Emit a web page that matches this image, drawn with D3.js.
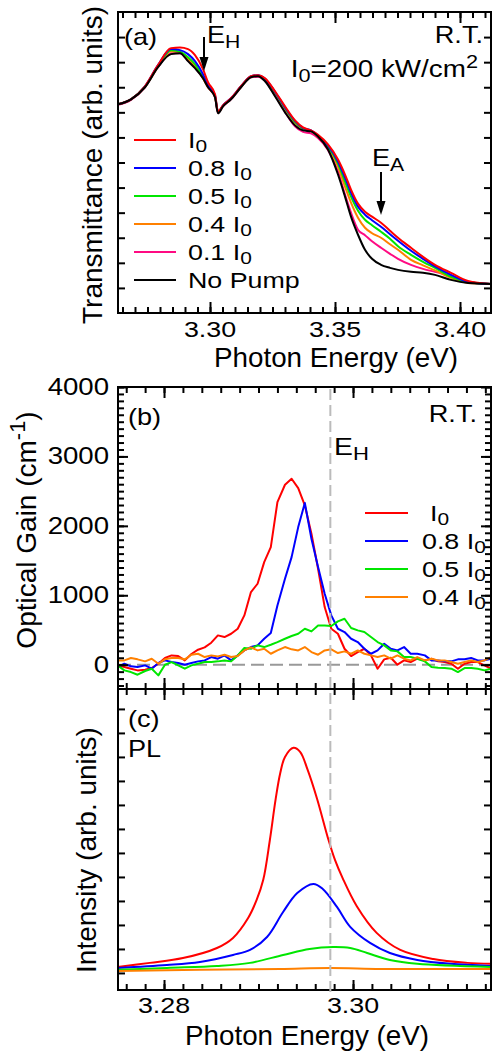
<!DOCTYPE html>
<html>
<head>
<meta charset="utf-8">
<script src="https://cdn.jsdelivr.net/npm/d3@7"></script>
<style>
body { margin: 0; background: #fff; }
svg { display: block; }
text { font-family: "Liberation Sans", Arial, Helvetica, sans-serif; fill: #000; }
</style>
</head>
<body>
<svg width="497" height="1053"></svg>
<script>
// ---- panel (a): transmittance ----
var energyA = [3.2632, 3.2684, 3.2740, 3.2792, 3.2844, 3.2880, 3.2912, 3.2940, 3.2972, 3.2992,
  3.3020, 3.3032, 3.3052, 3.3084, 3.3124, 3.3164, 3.3192, 3.3220, 3.3260, 3.3300,
  3.3340, 3.3372, 3.3404, 3.3432, 3.3472, 3.3512, 3.3540, 3.3564, 3.3592, 3.3620,
  3.3648, 3.3684, 3.3720, 3.3752, 3.3804, 3.3852, 3.3900, 3.3964, 3.4032, 3.4124];
var transI0 = [8.32, 8.52, 9.04, 9.88, 10.56, 10.58, 10.52, 10.28, 9.72, 9.20,
  8.72, 8.04, 8.28, 8.56, 9.04, 9.44, 9.48, 9.36, 8.84, 8.24,
  7.68, 7.40, 7.28, 7.10, 6.72, 6.12, 5.52, 4.92, 4.36, 4.04,
  3.84, 3.60, 3.28, 3.00, 2.60, 2.24, 1.92, 1.60, 1.28, 1.16];
var trans08 = [8.32, 8.52, 9.04, 9.88, 10.52, 10.48, 10.32, 10.04, 9.52, 9.08,
  8.68, 8.02, 8.28, 8.56, 9.04, 9.44, 9.48, 9.34, 8.82, 8.20,
  7.66, 7.38, 7.28, 7.08, 6.68, 6.04, 5.40, 4.80, 4.24, 3.92,
  3.70, 3.44, 3.14, 2.88, 2.48, 2.16, 1.86, 1.52, 1.24, 1.16];
var trans05 = [8.32, 8.52, 9.02, 9.84, 10.48, 10.42, 10.20, 9.92, 9.40, 9.04,
  8.64, 8.02, 8.26, 8.54, 9.02, 9.42, 9.46, 9.32, 8.80, 8.18,
  7.62, 7.36, 7.26, 7.06, 6.64, 5.96, 5.24, 4.64, 4.08, 3.72,
  3.50, 3.24, 2.96, 2.66, 2.32, 2.04, 1.80, 1.44, 1.24, 1.16];
var trans04 = [8.32, 8.52, 9.02, 9.82, 10.44, 10.40, 10.14, 9.84, 9.36, 9.00,
  8.62, 8.00, 8.26, 8.54, 9.02, 9.42, 9.46, 9.30, 8.78, 8.14,
  7.58, 7.34, 7.26, 7.04, 6.60, 5.84, 5.04, 4.40, 3.80, 3.40,
  3.18, 3.00, 2.74, 2.52, 2.12, 1.90, 1.70, 1.40, 1.20, 1.16];
var trans01 = [8.30, 8.50, 9.00, 9.80, 10.36, 10.36, 10.06, 9.78, 9.36, 9.00,
  8.60, 7.98, 8.24, 8.52, 9.00, 9.40, 9.42, 9.26, 8.68, 8.02,
  7.44, 7.22, 7.16, 6.98, 6.50, 5.64, 4.72, 4.00, 3.32, 3.10,
  2.86, 2.60, 2.36, 2.16, 1.92, 1.76, 1.64, 1.48, 1.24, 1.16];
var transNoPump = [8.32, 8.52, 9.00, 9.80, 10.32, 10.36, 10.04, 9.76, 9.36, 9.00,
  8.60, 7.96, 8.24, 8.52, 9.00, 9.40, 9.44, 9.24, 8.64, 8.00,
  7.48, 7.28, 7.24, 7.04, 6.52, 5.52, 4.64, 3.84, 3.12, 2.52,
  2.16, 1.92, 1.80, 1.72, 1.64, 1.60, 1.52, 1.32, 1.20, 1.16];

// ---- panel (b): optical gain ----
var energyB = [3.2751, 3.2758, 3.2765, 3.2772, 3.2780, 3.2787, 3.2794, 3.2801, 3.2808, 3.2815,
  3.2822, 3.2829, 3.2836, 3.2843, 3.2850, 3.2857, 3.2864, 3.2871, 3.2878, 3.2885,
  3.2892, 3.2899, 3.2906, 3.2913, 3.2920, 3.2928, 3.2935, 3.2942, 3.2949, 3.2956,
  3.2963, 3.2970, 3.2977, 3.2984, 3.2991, 3.2998, 3.3005, 3.3012, 3.3019, 3.3026,
  3.3033, 3.3040, 3.3047, 3.3054, 3.3061, 3.3068, 3.3076, 3.3083, 3.3090, 3.3097,
  3.3104, 3.3111, 3.3118, 3.3125, 3.3132, 3.3139, 3.3146];
var gainI0 = [-10, -34, -58, -82, -72, -48, 14, 96, 134, 125,
  62, 154, 216, 250, 317, 422, 398, 446, 518, 710,
  1046, 1166, 1478, 1694, 2342, 2592, 2678, 2544, 2294, 1886,
  1382, 830, 518, 446, 230, 125, 182, 230, 134, -58,
  77, 101, 0, 62, 38, 86, 62, 86, 48, 38,
  14, -58, 14, 38, 38, -10, -58];
var gain08 = [-34, 14, -24, -34, -10, -58, 24, 62, 38, 24,
  0, 24, 48, 62, 110, 86, 134, 62, 134, 206,
  254, 278, 374, 456, 854, 1238, 1550, 1982, 2330, 1814,
  1406, 1022, 710, 518, 470, 374, 326, 230, 158, 206,
  302, 230, 206, 254, 158, 158, 134, 62, 62, 48,
  48, 77, 77, 96, 62, 62, 86];
var gain05 = [-10, -82, -106, -144, -91, -58, -154, 0, 38, -10,
  -58, -10, 14, 38, 38, 48, 62, 48, 134, 240,
  230, 278, 254, 288, 326, 374, 413, 446, 518, 480,
  566, 566, 557, 624, 662, 528, 494, 470, 398, 326,
  278, 206, 192, 110, 110, 86, 48, -34, -43, -48,
  -58, -106, -48, -48, -58, -82, -58];
var gain04 = [62, 62, 96, 77, 48, 86, 14, 77, 96, 96,
  77, 144, 158, 110, 134, 120, 144, 110, 125, 206,
  250, 206, 230, 158, 206, 254, 221, 206, 254, 182,
  144, 206, 221, 168, 192, 158, 206, 158, 134, 110,
  134, 86, 134, 86, 62, 110, 62, 86, 62, 62,
  38, 14, 38, 62, 38, 62, 110];

// ---- panel (c): PL ----
var plI0E = [3.2751, 3.2785, 3.2820, 3.2856, 3.2873, 3.2889, 3.2898, 3.2905, 3.2912, 3.2918,
  3.2923, 3.2928, 3.2937, 3.2944, 3.2952, 3.2962, 3.2974, 3.2981, 3.2989, 3.3004, 3.3025,
  3.3050, 3.3085, 3.3121, 3.3146];
var plI0 = [0.25, 0.42, 0.62, 1.04, 1.46, 2.29, 3.04, 3.88, 5.54, 7.21,
  8.33, 9.00, 9.38, 9.21, 8.46, 7.25, 5.55, 4.70, 3.95, 2.78, 1.67,
  0.96, 0.58, 0.42, 0.38];
var pl08E = [3.2751, 3.2803, 3.2838, 3.2873, 3.2891, 3.2909, 3.2926, 3.2941, 3.2958, 3.2968,
  3.2983, 3.2997, 3.3018, 3.3039, 3.3068, 3.3103, 3.3146];
var pl08 = [0.21, 0.33, 0.46, 0.75, 0.96, 1.50, 2.54, 3.33, 3.71, 3.50,
  2.75, 1.92, 1.25, 0.83, 0.54, 0.38, 0.29];
var pl05E = [3.2751, 3.2803, 3.2856, 3.2891, 3.2926, 3.2954, 3.2979, 3.2997, 3.3015, 3.3039, 3.3068, 3.3146];
var pl05 = [0.13, 0.21, 0.29, 0.42, 0.75, 1.00, 1.08, 1.04, 0.83, 0.54, 0.38, 0.25];
var pl04E = [3.2751, 3.2838, 3.2923, 3.2976, 3.3029, 3.3103, 3.3146];
var pl04 = [0.08, 0.13, 0.17, 0.21, 0.17, 0.17, 0.17];

// ---- ticks and markers ----
var xMajorA = [3.30, 3.35, 3.40];
var xMajorBC = [3.28, 3.30];
var yMajorB = [0, 1000, 2000, 3000, 4000];
var eH = 3.2976;
var eA = 3.3684;

var red = "#ff0000", blue = "#0000ff", green = "#00e600", orange = "#ff8000", pink = "#ff0a82";

var svg = d3.select("svg");

var xA = d3.scaleLinear().domain([3.2632, 3.4124]).range([118, 491]);
var yA = d3.scaleLinear().domain([0, 12]).range([313, 12]);
var xB = d3.scaleLinear().domain([3.27513, 3.3146]).range([118, 491]);
var yB = d3.scaleLinear().domain([-350, 4000]).range([689, 387]);
var yC = d3.scaleLinear().domain([-0.71, 11.83]).range([990, 689]);

function rich(t, parts, size) {
  var shift = 0;
  parts.forEach(function(p) {
    var s = typeof p === "string" ? p : p[0];
    var kind = typeof p === "string" ? null : p[1];
    var target = kind === "sub" ? 0.2 : kind === "sup" ? -0.38 : 0;
    var ts = t.append("tspan").text(s);
    var dy = (target - shift) * size;
    if (dy) ts.attr("dy", dy);
    if (kind) ts.attr("font-size", size * 0.78);
    shift = target;
  });
  return t;
}

function label(x, y, parts, opts) {
  opts = opts || {};
  var size = opts.size || 23;
  var t = svg.append("text")
    .attr("transform", "translate(" + x + "," + y + ") " +
      (opts.rotate ? "rotate(-90)" : "scale(" + (opts.sx || 1.18) + ",1)"))
    .attr("font-size", size)
    .attr("text-anchor", opts.anchor || "start");
  return rich(t, parts, size);
}

function ticks(axis, scale, values, size, tx, ty) {
  svg.append("g")
    .attr("transform", "translate(" + tx + "," + ty + ")")
    .call(axis(scale).tickValues(values).tickSize(size).tickFormat(""))
    .call(function(g) {
      g.select(".domain").remove();
      g.selectAll("line").attr("stroke", "#000").attr("stroke-width", 2);
    });
}

function tickLabels(scale, values, fmt, y) {
  values.forEach(function(v) {
    label(scale(v), y, [fmt(v)], { anchor: "middle", sx: 1.22, size: 22 });
  });
}

function frame(y0, y1) {
  svg.append("rect")
    .attr("x", 118).attr("y", y0)
    .attr("width", 373).attr("height", y1 - y0)
    .attr("fill", "none").attr("stroke", "#000").attr("stroke-width", 2);
}

function curve(xs, ys, xScale, yScale, color, shape) {
  var line = d3.line()
    .x(function(d, i) { return xScale(xs[i]); })
    .y(function(d) { return yScale(d); });
  if (shape) line.curve(shape);
  svg.append("path")
    .attr("d", line(ys))
    .attr("fill", "none")
    .attr("stroke", color)
    .attr("stroke-width", 2)
    .attr("stroke-linejoin", "round");
}

// ================= panel (a) =================
var minorA = d3.range(653, 683).map(function(k) { return k / 200; });
var yTicksA = d3.range(1, 12);

[[trans01, pink], [trans04, orange], [trans05, green], [trans08, blue], [transI0, red], [transNoPump, "#000"]]
  .forEach(function(s) { curve(energyA, s[0], xA, yA, s[1], d3.curveMonotoneX); });

ticks(d3.axisBottom, xA, minorA, 6, 0, 12);
ticks(d3.axisBottom, xA, xMajorA, 11, 0, 12);
ticks(d3.axisBottom, xA, minorA, -6, 0, 313);
ticks(d3.axisBottom, xA, xMajorA, -11, 0, 313);
ticks(d3.axisLeft, yA, yTicksA, -7, 118, 0);
ticks(d3.axisLeft, yA, yTicksA, 7, 491, 0);
frame(12, 313);
tickLabels(xA, xMajorA, d3.format(".2f"), 337);

var legendA = [
  [["I", ["0", "sub"]], red],
  [["0.8 I", ["0", "sub"]], blue],
  [["0.5 I", ["0", "sub"]], green],
  [["0.4 I", ["0", "sub"]], orange],
  [["0.1 I", ["0", "sub"]], pink],
  [["No Pump"], "#000"]
];
legendA.forEach(function(d, i) {
  var y = 140 + i * 28;
  svg.append("line").attr("x1", 134).attr("x2", 176).attr("y1", y).attr("y2", y)
    .attr("stroke", d[1]).attr("stroke-width", 2);
  label(188, y + 8, d[0], { size: 22, sx: 1.22 });
});

label(124, 45, ["(a)"]);
label(207, 43, ["E", ["H", "sub"]]);
label(483, 43, ["R.T."], { anchor: "end" });
label(478, 77, ["I", ["0", "sub"], "=200 kW/cm", ["2", "sup"]], { anchor: "end", sx: 1.21 });
label(372, 166, ["E", ["A", "sub"]]);

function arrow(x, y0, y1) {
  svg.append("line").attr("x1", x).attr("x2", x).attr("y1", y0).attr("y2", y1 - 6)
    .attr("stroke", "#000").attr("stroke-width", 2);
  svg.append("path")
    .attr("d", "M" + (x - 4.5) + "," + (y1 - 14) + "L" + (x + 4.5) + "," + (y1 - 14) + "L" + x + "," + y1 + "Z")
    .attr("fill", "#000");
}
arrow(xA(eH), 37, 71);
arrow(xA(eA), 172, 215);

label(102, 165, ["Transmittance (arb. units)"], { rotate: true, anchor: "middle", size: 28 });
label(336, 367, ["Photon Energy (eV)"], { anchor: "middle", size: 27, sx: 1.03 });

// ================= panel (b) =================
var minorBC = d3.range(1638, 1658).map(function(k) { return k / 500; });
var minorB = d3.range(-3, 41).map(function(k) { return k * 100; });

svg.append("line")
  .attr("x1", 118).attr("x2", 491).attr("y1", yB(0)).attr("y2", yB(0))
  .attr("stroke", "#999").attr("stroke-width", 2).attr("stroke-dasharray", "13,6");

[[gainI0, red], [gain08, blue], [gain05, green], [gain04, orange]]
  .forEach(function(s) { curve(energyB, s[0], xB, yB, s[1], null); });

ticks(d3.axisBottom, xB, minorBC, 6, 0, 387);
ticks(d3.axisBottom, xB, xMajorBC, 11, 0, 387);
ticks(d3.axisBottom, xB, minorBC, -6, 0, 689);
ticks(d3.axisBottom, xB, minorBC, 6, 0, 689);
ticks(d3.axisBottom, xB, xMajorBC, -11, 0, 689);
ticks(d3.axisBottom, xB, xMajorBC, 11, 0, 689);
ticks(d3.axisLeft, yB, minorB, -6, 118, 0);
ticks(d3.axisLeft, yB, yMajorB, -10, 118, 0);
ticks(d3.axisLeft, yB, minorB, 6, 491, 0);
ticks(d3.axisLeft, yB, yMajorB, 10, 491, 0);
frame(387, 689);

yMajorB.forEach(function(v) {
  label(109, yB(v) + 8, [String(v)], { anchor: "end", sx: 1.2 });
});

var legendB = [
  [["I", ["0", "sub"]], red, 430],
  [["0.8 I", ["0", "sub"]], blue, 422],
  [["0.5 I", ["0", "sub"]], green, 422],
  [["0.4 I", ["0", "sub"]], orange, 422]
];
legendB.forEach(function(d, i) {
  var y = 513 + i * 28;
  svg.append("line").attr("x1", 365).attr("x2", 408).attr("y1", y).attr("y2", y)
    .attr("stroke", d[1]).attr("stroke-width", 2);
  label(d[2], y + 8, d[0], { size: 22, sx: 1.22 });
});

label(128, 425, ["(b)"]);
label(477, 422, ["R.T."], { anchor: "end" });
label(334, 455, ["E", ["H", "sub"]], { size: 24 });
label(36, 530, ["Optical Gain (cm", ["-1", "sup"], ")"], { rotate: true, anchor: "middle", size: 28 });

// ================= panel (c) =================
var yTicksC = d3.range(0, 12);

[[plI0E, plI0, red], [pl08E, pl08, blue], [pl05E, pl05, green], [pl04E, pl04, orange]]
  .forEach(function(s) { curve(s[0], s[1], xB, yC, s[2], d3.curveCatmullRom.alpha(0.5)); });

ticks(d3.axisBottom, xB, minorBC, -6, 0, 990);
ticks(d3.axisBottom, xB, xMajorBC, -10, 0, 990);
ticks(d3.axisLeft, yC, yTicksC, -7, 118, 0);
ticks(d3.axisLeft, yC, yTicksC, 7, 491, 0);
frame(689, 990);
tickLabels(xB, xMajorBC, d3.format(".2f"), 1013);

label(128, 727, ["(c)"]);
label(128, 757, ["PL"]);
label(96, 850, ["Intensity (arb. units)"], { rotate: true, anchor: "middle", size: 28 });
label(307, 1045, ["Photon Energy (eV)"], { anchor: "middle", size: 27, sx: 1.03 });

// E_H marker through (b) and (c)
svg.append("line")
  .attr("x1", xB(eH)).attr("x2", xB(eH)).attr("y1", 389).attr("y2", 997)
  .attr("stroke", "#bbb").attr("stroke-width", 2).attr("stroke-dasharray", "11,5");
</script>
</body>
</html>
